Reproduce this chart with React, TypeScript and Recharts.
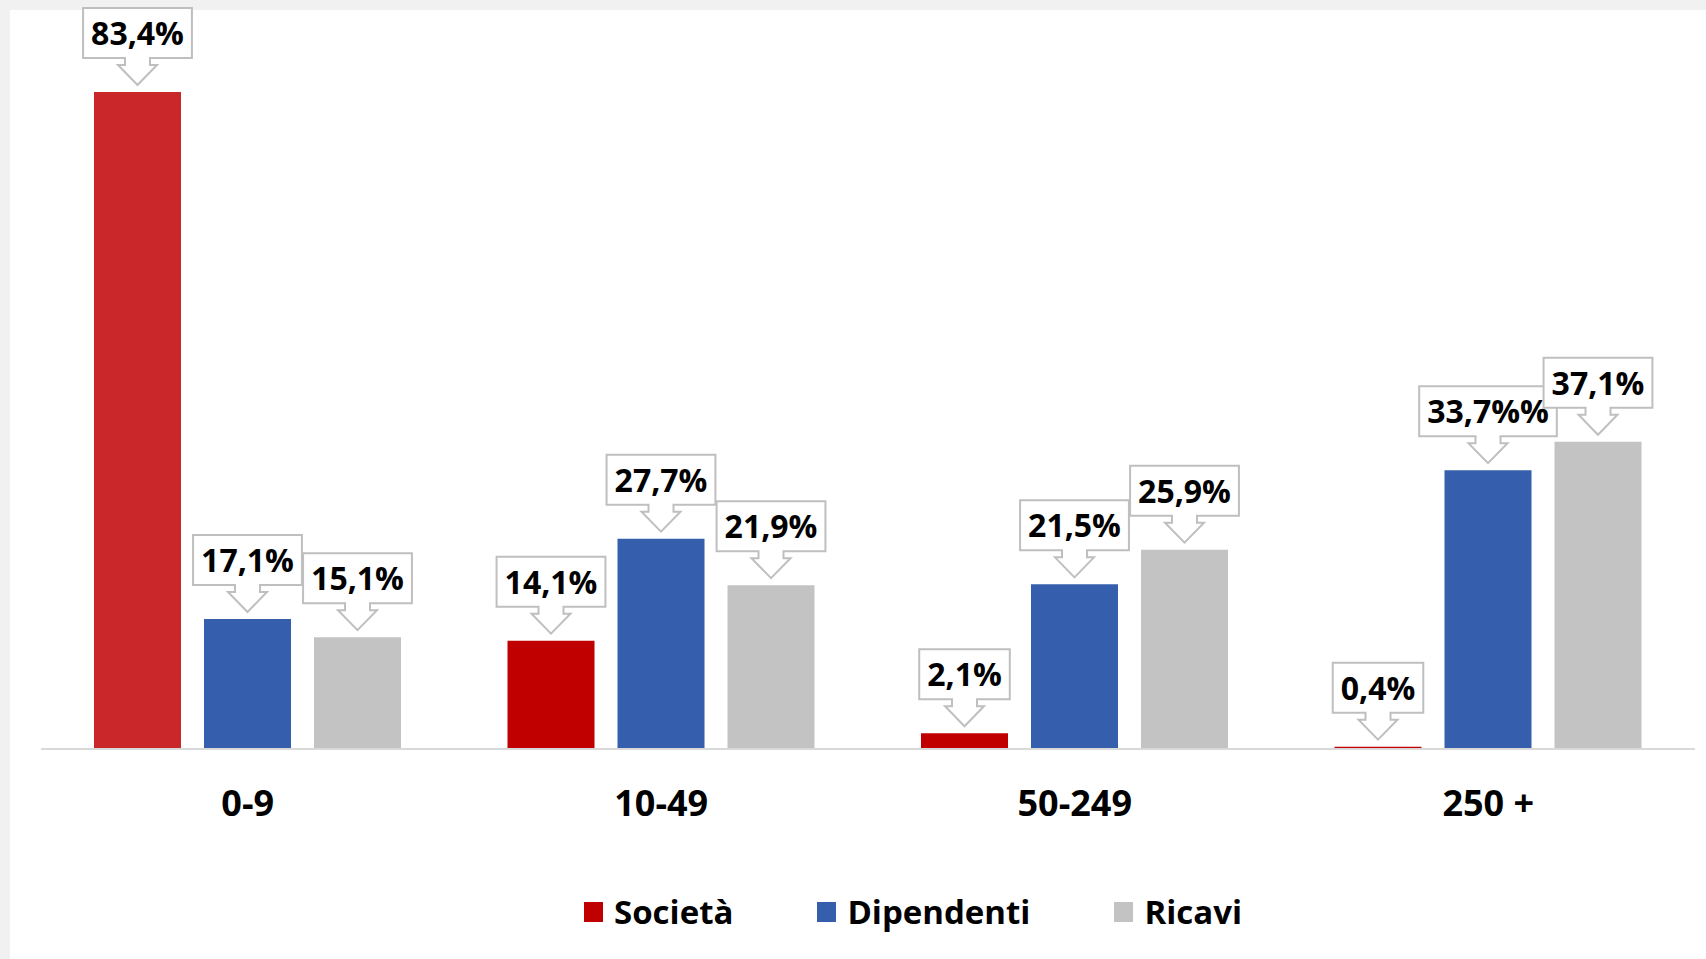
import React from 'react';
import { BarChart, Bar, XAxis, YAxis, LabelList, Cell } from 'recharts';

const categories = ['0-9', '10-49', '50-249', '250 +'];
const societaValues = [83.4, 13.75, 2.0, 0.3];
const dipendentiValues = [16.5, 26.7, 20.9, 35.4];
const ricaviValues = [14.2, 20.8, 25.3, 39.0];
const societaLabels = ['83,4%', '14,1%', '2,1%', '0,4%'];
const dipendentiLabels = ['17,1%', '27,7%', '21,5%', '33,7%%'];
const ricaviLabels = ['15,1%', '21,9%', '25,9%', '37,1%'];
const seriesNames = ['Società', 'Dipendenti', 'Ricavi'];
const seriesColors = ['#C00000', '#355FAD', '#C3C3C3'];
const firstSocietaColor = '#C9272A';

const data = categories.map((cat, i) => ({
  cat,
  societa: societaValues[i],
  dipendenti: dipendentiValues[i],
  ricavi: ricaviValues[i],
  societaLabel: societaLabels[i],
  dipendentiLabel: dipendentiLabels[i],
  ricaviLabel: ricaviLabels[i],
}));

const FONT = "'Open Sans', sans-serif";
const LABEL_SIZE = 32;

let ctx: CanvasRenderingContext2D | null = null;
function measure(text: string, size: number): number {
  try {
    if (!ctx) ctx = document.createElement('canvas').getContext('2d');
    if (ctx) {
      ctx.font = `700 ${size}px 'Open Sans'`;
      return ctx.measureText(text).width;
    }
  } catch (e) {}
  return text.length * size * 0.6;
}

const Callout = (props: any) => {
  const vb = props.viewBox || {};
  const x = vb.x ?? props.x;
  const y = vb.y ?? props.y;
  const width = vb.width ?? props.width;
  const height = vb.height ?? props.height ?? 0;
  const top = height < 0 ? y + height : y;
  const text = String(props.value);
  const cx = x + width / 2;
  const w = measure(text, LABEL_SIZE) + 16;
  const tip = top - 7;
  const B = tip - 27;
  const T = B - 50;
  const L = cx - w / 2;
  const R = cx + w / 2;
  const d = `M${L},${T} L${R},${T} L${R},${B} L${cx + 12.5},${B} L${cx + 12.5},${B + 7} L${cx + 19.5},${B + 7} L${cx},${tip} L${cx - 19.5},${B + 7} L${cx - 12.5},${B + 7} L${cx - 12.5},${B} L${L},${B} Z`;
  return (
    <g>
      <path d={d} fill="#FFFFFF" stroke="#BFBFBF" strokeWidth={2} strokeLinejoin="miter" />
      <text x={cx} y={T + 37} textAnchor="middle" fontFamily={FONT} fontWeight={700} fontSize={LABEL_SIZE} fill="#000000">
        {text}
      </text>
    </g>
  );
};

const Tick = (props: any) => {
  const { x, y, payload } = props;
  return (
    <text x={x} y={y + 67} textAnchor="middle" fontFamily={FONT} fontWeight={700} fontSize={36} fill="#000000">
      {payload.value}
    </text>
  );
};

export default function App() {
  return (
    <div style={{ position: 'fixed', left: 0, top: 0, width: 1706, height: 959, background: '#F1F1F1', overflow: 'hidden' }}>
      <div style={{ position: 'absolute', left: 10, top: 10, right: 0, bottom: 0, background: '#FFFFFF' }} />
      <div style={{ position: 'absolute', left: 0, top: 0 }}>
        <BarChart
          width={1706}
          height={959}
          data={data}
          margin={{ top: 40, right: 11, bottom: 150, left: 41 }}
          barSize={87}
          barGap={23}
        >
          <XAxis
            dataKey="cat"
            axisLine={{ stroke: '#D9D9D9', strokeWidth: 2 }}
            tickLine={false}
            tickSize={0}
            tickMargin={0}
            height={60}
            tick={<Tick />}
            interval={0}
          />
          <YAxis hide domain={[0, 90]} />
          <Bar dataKey="societa" name={seriesNames[0]} fill={seriesColors[0]} isAnimationActive={false}>
            {data.map((_, i) => (
              <Cell key={i} fill={i === 0 ? firstSocietaColor : seriesColors[0]} />
            ))}
            <LabelList dataKey="societaLabel" content={<Callout />} />
          </Bar>
          <Bar dataKey="dipendenti" name={seriesNames[1]} fill={seriesColors[1]} isAnimationActive={false}>
            <LabelList dataKey="dipendentiLabel" content={<Callout />} />
          </Bar>
          <Bar dataKey="ricavi" name={seriesNames[2]} fill={seriesColors[2]} isAnimationActive={false}>
            <LabelList dataKey="ricaviLabel" content={<Callout />} />
          </Bar>
        </BarChart>
      </div>
      <div style={{ position: 'absolute', left: 584, top: 892, display: 'flex', alignItems: 'center', gap: 84, fontFamily: FONT, fontWeight: 700, fontSize: 33, color: '#000000', lineHeight: '40px' }}>
        {seriesNames.map((n, i) => (
          <div key={n} style={{ display: 'flex', alignItems: 'center' }}>
            <div style={{ width: 19, height: 20, background: seriesColors[i], marginRight: 11 }} />
            <span>{n}</span>
          </div>
        ))}
      </div>
    </div>
  );
}
